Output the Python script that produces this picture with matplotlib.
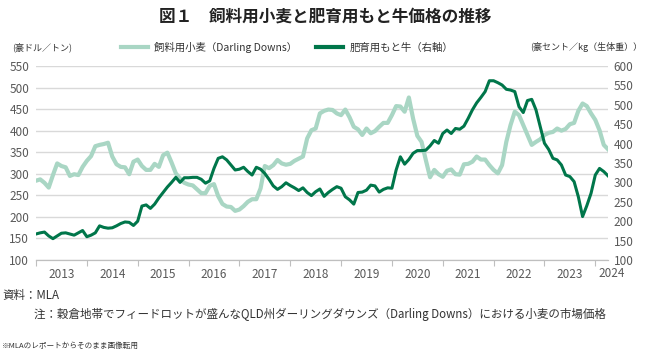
import matplotlib
matplotlib.use("Agg")
import matplotlib.pyplot as plt
from matplotlib.lines import Line2D
from matplotlib.transforms import blended_transform_factory
import numpy as np

plt.rcParams['font.family'] = ['Noto Sans CJK JP', 'DejaVu Sans']

# 月次データ 2013年1月〜2024年4月
wheat = [284, 287, 279, 268, 297, 324, 318, 315, 295, 299,
         297, 316, 330, 341, 364, 367, 369, 372, 340, 322,
         316, 315, 299, 328, 333, 318, 309, 309, 323, 316,
         343, 349, 326, 301, 289, 279, 275, 273, 264, 255,
         255, 272, 276, 248, 230, 224, 223, 214, 217, 225,
         235, 241, 241, 266, 318, 313, 320, 332, 324, 321,
         323, 330, 335, 340, 382, 401, 405, 440, 446, 449,
         448, 440, 436, 449, 431, 409, 403, 390, 405, 394,
         399, 409, 418, 418, 436, 457, 456, 444, 477, 428,
         388, 374, 332, 292, 309, 299, 293, 307, 310, 299,
         298, 322, 323, 328, 340, 333, 333, 320, 309, 301,
         320, 374, 413, 444, 436, 413, 390, 367, 374, 380,
         390, 395, 397, 405, 400, 404, 415, 418, 446, 463,
         457, 440, 425, 401, 367, 357]
cattle = [167, 170, 172, 162, 155, 162, 169, 170, 167, 164,
          170, 176, 160, 164, 170, 188, 184, 182, 183, 188,
          194, 198, 197, 189, 200, 239, 242, 233, 244, 260,
          274, 288, 300, 313, 300, 312, 312, 313, 313, 308,
          298, 304, 336, 362, 366, 358, 345, 332, 334, 339,
          328, 319, 339, 334, 323, 308, 291, 282, 289, 299,
          292, 286, 279, 286, 274, 266, 276, 283, 264, 274,
          282, 289, 285, 263, 255, 244, 274, 275, 280, 293,
          291, 275, 282, 286, 285, 332, 366, 347, 359, 375,
          382, 382, 383, 394, 408, 401, 426, 435, 426, 439,
          437, 445, 465, 487, 505, 519, 534, 562, 562, 557,
          551, 540, 538, 534, 495, 480, 511, 514, 487, 444,
          401, 385, 362, 358, 345, 319, 315, 302, 263, 212,
          240, 272, 319, 336, 328, 317]
years = list(range(2013, 2025))
x = 2013 + np.arange(len(wheat)) / 12

c_light = '#a9d6c4'
c_dark = '#00764a'
c_text = '#595959'

fig = plt.figure(figsize=(6.5, 3.53), dpi=100)
ax = fig.add_axes([36/650, 1-260/353, (608-36)/650, (260-66)/353])
ax2 = ax.twinx()

ax.plot(x, wheat, color=c_light, lw=3.0, solid_joinstyle='round', zorder=3)
ax2.plot(x, cattle, color=c_dark, lw=2.2, solid_joinstyle='round', zorder=3)

ax.set_ylim(100, 550)
ax.set_yticks(range(100, 551, 50))
ax2.set_ylim(100, 600)
ax2.set_yticks(range(100, 601, 50))
ax.set_xlim(2013, x[-1])

ax.grid(axis='y', color='#d9d9d9', lw=1)
ax.set_axisbelow(True)
for a in (ax, ax2):
    for s in ('top', 'left', 'right'):
        a.spines[s].set_visible(False)
    a.spines['bottom'].set_color('#bfbfbf')
ax.tick_params(axis='y', length=0, pad=5, labelsize=8.5, labelcolor=c_text)
ax2.tick_params(axis='y', length=0, pad=4, labelsize=8.5, labelcolor=c_text)

# 年の区切りに目盛、ラベルは区間の中央
ax.set_xticks(years)
ax.set_xticklabels([])
ax.set_xticks([y + 0.5 for y in years[:-1]], minor=True)
ax.set_xticklabels([str(y) for y in years[:-1]], minor=True)
ax.tick_params(axis='x', which='major', length=4, color='#bfbfbf')
ax.tick_params(axis='x', which='minor', length=0, pad=6, labelsize=8.5, labelcolor=c_text)
tr = blended_transform_factory(ax.transData, ax.transAxes)
ax.text(2024.33, -0.072, str(years[-1]), transform=tr, ha='center', va='center',
        fontsize=8.5, color=c_text, clip_on=False)

fig.text(0.5, 1-17/353, '図１　飼料用小麦と肥育用もと牛価格の推移',
         ha='center', va='center', fontsize=12, fontweight='bold', color='#222222')
fig.text(12/650, 1-47/353, '(豪ドル／トン)', ha='left', va='center', fontsize=6.5, color='#333333')
fig.text(642/650, 1-47/353, '(豪セント／kg（生体重））', ha='right', va='center', fontsize=6.5, color='#333333')

handles = [Line2D([], [], color=c_light, lw=3), Line2D([], [], color=c_dark, lw=3)]
fig.legend(handles, ['飼料用小麦（Darling Downs）', '肥育用もと牛（右軸）'],
           loc='center', bbox_to_anchor=(287/650, 1-47/353), ncol=2, frameon=False,
           fontsize=7.5, handlelength=2.6, handletextpad=0.6, columnspacing=1.8,
           labelcolor='#333333')

fig.text(2/650, 1-296/353, '資料：MLA', ha='left', va='center', fontsize=8.3, color='#333333')
fig.text(34/650, 1-314/353,
         '注：穀倉地帯でフィードロットが盛んなQLD州ダーリングダウンズ（Darling Downs）における小麦の市場価格',
         ha='left', va='center', fontsize=8.3, color='#333333')
fig.text(2/650, 1-346/353, '※MLAのレポートからそのまま画像転用', ha='left', va='center',
         fontsize=5.5, color='#333333')

fig.savefig('out.png', dpi=100)
